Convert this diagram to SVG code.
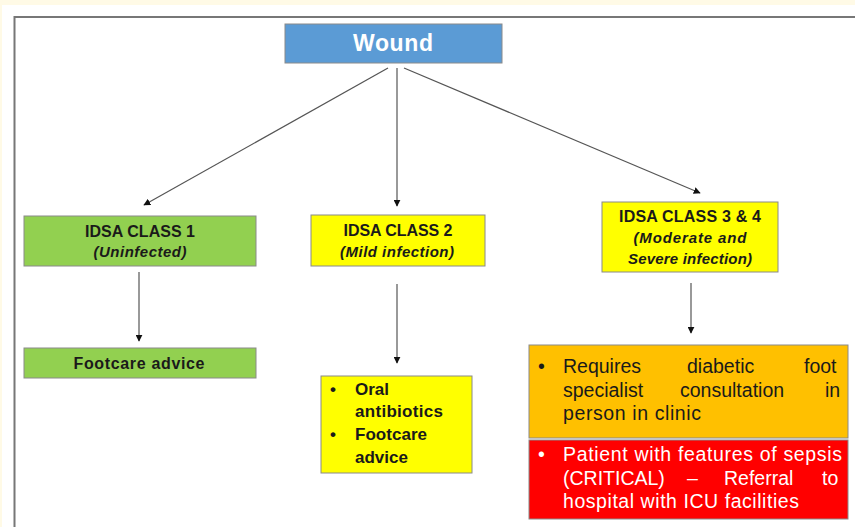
<svg xmlns="http://www.w3.org/2000/svg" width="855" height="527" viewBox="0 0 855 527">
  <defs>
    <marker id="arrow" viewBox="0 0 10 10" refX="9" refY="5" markerWidth="7" markerHeight="7" markerUnits="userSpaceOnUse" orient="auto">
      <path d="M0,0 L10,5 L0,10 z" fill="#111"/>
    </marker>
    <style>
      .box { stroke: #8a8a8a; stroke-width: 1; }
      .conn { stroke: #555; stroke-width: 1.2; fill: none; marker-end: url(#arrow); }
      .t { font-family: "Liberation Sans", Arial, sans-serif; fill: #1a1a1a; }
      .h { font-weight: bold; font-size: 16px; text-anchor: middle; }
      .sub { font-weight: bold; font-style: italic; font-size: 15px; text-anchor: middle; }
      .list { font-weight: bold; font-size: 17px; }
      .body { font-size: 19.5px; }
      .w { fill: #ffffff; }
    </style>
  </defs>

  <!-- page background and frame -->
  <rect x="0" y="0" width="855" height="527" fill="#fffae6"/>
  <rect x="2" y="5" width="853" height="522" fill="#ffffff"/>
  <path d="M14.5,527 L14.5,17 L855,17" fill="none" stroke="#777" stroke-width="2"/>

  <!-- connectors -->
  <g id="connectors">
    <line class="conn" x1="388" y1="68" x2="144" y2="205"/>
    <line class="conn" x1="397" y1="68" x2="397" y2="206"/>
    <line class="conn" x1="404" y1="68" x2="700" y2="193"/>
    <line class="conn" x1="139" y1="272" x2="139" y2="341"/>
    <line class="conn" x1="397" y1="284" x2="397" y2="363"/>
    <line class="conn" x1="691" y1="283" x2="691" y2="333"/>
  </g>

  <g id="wound">
    <rect class="box" x="285" y="24" width="217" height="39" fill="#5b9bd5" stroke="#7fa8d6"/>
    <text class="t w" x="393" y="51" font-size="23" font-weight="bold" text-anchor="middle" textLength="80">Wound</text>
  </g>

  <g id="class1">
    <rect class="box" x="24" y="216" width="232" height="50" fill="#92d050"/>
    <text class="t h" x="140" y="237" textLength="110">IDSA CLASS 1</text>
    <text class="t sub" x="140" y="257" textLength="93">(Uninfected)</text>
  </g>

  <g id="footcare1">
    <rect class="box" x="24" y="348" width="232" height="30" fill="#92d050"/>
    <text class="t h" x="139" y="369" textLength="131">Footcare advice</text>
  </g>

  <g id="class2">
    <rect class="box" x="311" y="215" width="174" height="51" fill="#ffff00"/>
    <text class="t h" x="398" y="236" textLength="109">IDSA CLASS 2</text>
    <text class="t sub" x="397" y="257" textLength="114">(Mild infection)</text>
  </g>

  <g id="mild-treatment">
    <rect class="box" x="321" y="376" width="151" height="97" fill="#ffff00"/>
    <text class="t list" x="330" y="395">•</text>
    <text class="t list" x="355" y="395">Oral</text>
    <text class="t list" x="355" y="417" textLength="88">antibiotics</text>
    <text class="t list" x="330" y="440">•</text>
    <text class="t list" x="355" y="440" textLength="72">Footcare</text>
    <text class="t list" x="355" y="463">advice</text>
  </g>

  <g id="class34">
    <rect class="box" x="602" y="202" width="176" height="70" fill="#ffff00"/>
    <text class="t h" x="690" y="222" textLength="142">IDSA CLASS 3 &amp; 4</text>
    <text class="t sub" x="690" y="243" textLength="113">(Moderate and</text>
    <text class="t sub" x="690" y="264" textLength="124">Severe infection)</text>
  </g>

  <g id="specialist">
    <rect class="box" x="529" y="345" width="319" height="93" fill="#ffc000"/>
    <text class="t body" x="538" y="373">•</text>
    <text class="t body" y="373"><tspan x="563">Requires</tspan><tspan x="687">diabetic</tspan><tspan x="804">foot</tspan></text>
    <text class="t body" y="397"><tspan x="563">specialist</tspan><tspan x="680">consultation</tspan><tspan x="825">in</tspan></text>
    <text class="t body" x="563" y="420" textLength="138">person in clinic</text>
  </g>

  <g id="sepsis">
    <rect class="box" x="529" y="440" width="319" height="79" fill="#ff0000"/>
    <text class="t body w" x="538" y="461">•</text>
    <text class="t body w" x="563" y="461" textLength="279">Patient with features of sepsis</text>
    <text class="t body w" y="485"><tspan x="563">(CRITICAL)</tspan><tspan x="687">–</tspan><tspan x="724">Referral</tspan><tspan x="822">to</tspan></text>
    <text class="t body w" x="563" y="508" textLength="236">hospital with ICU facilities</text>
  </g>
</svg>
